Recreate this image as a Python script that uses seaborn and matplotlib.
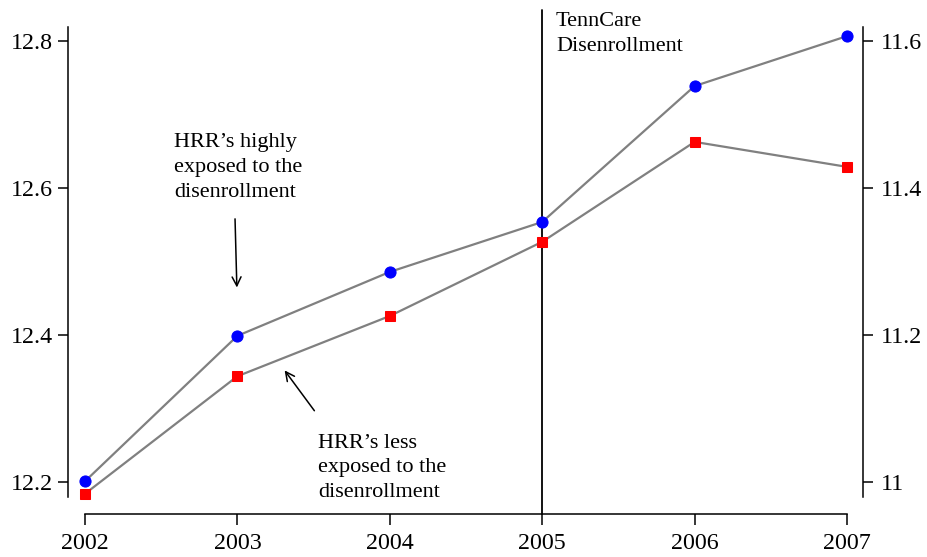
import matplotlib
matplotlib.use("Agg")
import matplotlib.pyplot as plt
import seaborn as sns
import pandas as pd

years = [2002, 2003, 2004, 2005, 2006, 2007]
high_exposure = [12.201, 12.399, 12.486, 12.554, 12.739, 12.807]   # left axis
low_exposure = [10.984, 11.144, 11.226, 11.327, 11.463, 11.429]    # right axis
left_ticks = [12.2, 12.4, 12.6, 12.8]
right_ticks = [11.0, 11.2, 11.4, 11.6]
right_tick_labels = ["11", "11.2", "11.4", "11.6"]
event_year = 2005

sns.set_theme(style="white")
plt.rcParams['font.family'] = ['Liberation Serif', 'DejaVu Serif']
plt.rcParams['text.color'] = 'black'
plt.rcParams['xtick.color'] = 'black'
plt.rcParams['ytick.color'] = 'black'
FS = 16.5
TICK_FS = 17.3
LS = 1.42

df = pd.DataFrame({"year": years, "high": high_exposure, "low": low_exposure})

fig = plt.figure(figsize=(9.27, 5.57), dpi=100)
ax = fig.add_axes([85/927, 60/557, (847-85)/927, (497-27)/557])
ax2 = ax.twinx()

sns.lineplot(data=df, x="year", y="high", ax=ax, color="#808080", linewidth=1.6,
             marker="o", markersize=8, markerfacecolor="#0000FF",
             markeredgecolor="#0000FF", clip_on=False, zorder=3)
sns.lineplot(data=df, x="year", y="low", ax=ax2, color="#808080", linewidth=1.6,
             marker="s", markersize=7.5, markerfacecolor="#FF0000",
             markeredgecolor="#FF0000", clip_on=False, zorder=3)

ax.set_xlim(2002, 2007)
ax.set_ylim(12.1796, 12.8194)
ax2.set_ylim(10.9796, 11.6194)

ax.set_xticks(years)
ax.set_xticklabels([str(y) for y in years])
ax.set_yticks(left_ticks)
ax.set_yticklabels([f"{t:.1f}" for t in left_ticks])
ax2.set_yticks(right_ticks)
ax2.set_yticklabels(right_tick_labels)
ax.set_xlabel("")
ax.set_ylabel("")
ax2.set_ylabel("")

for a in (ax, ax2):
    for s in a.spines.values():
        s.set_visible(False)
        s.set_color("black")
        s.set_linewidth(1.1)
ax.spines['left'].set_visible(True)
ax.spines['left'].set_position(('outward', 12.2))
ax.spines['bottom'].set_visible(True)
ax.spines['bottom'].set_position(('outward', 12.2))
ax2.spines['right'].set_visible(True)
ax2.spines['right'].set_position(('outward', 11.5))

ax.tick_params(axis='y', which='major', left=True, length=7.5, width=1.1,
               pad=3.5, colors='black', labelsize=TICK_FS)
ax.tick_params(axis='x', which='major', bottom=True, length=8, width=1.1,
               pad=6, colors='black', labelsize=TICK_FS)
ax2.tick_params(axis='y', which='major', right=True, left=False, length=7,
                width=1.1, pad=6, colors='black', labelsize=TICK_FS)

# vertical event line
trans = ax.get_xaxis_transform()
ax.plot([event_year, event_year], [-0.036, 1.036], transform=trans,
        color="black", linewidth=1.3, clip_on=False, zorder=2)

ax.text(2005.09, 12.840, "TennCare\nDisenrollment", fontsize=FS - 0.5,
        ha="left", va="top", linespacing=LS, color="black")

ax.text(2002.584, 12.6745, "HRR’s highly\nexposed to the\ndisenrollment",
        fontsize=FS - 0.5, ha="left", va="top", linespacing=LS, color="black")
ax.annotate("", xy=(2002.997, 12.461), xytext=(2002.984, 12.562),
            arrowprops=dict(arrowstyle="->", color="black", lw=1.1,
                            mutation_scale=16))

ax.text(2003.529, 12.266, "HRR’s less\nexposed to the\ndisenrollment",
        fontsize=FS - 0.5, ha="left", va="top", linespacing=LS, color="black")
ax.annotate("", xy=(2003.299, 12.355), xytext=(2003.516, 12.294),
            arrowprops=dict(arrowstyle="->", color="black", lw=1.1,
                            mutation_scale=16))

fig.savefig("out.png", dpi=100)
